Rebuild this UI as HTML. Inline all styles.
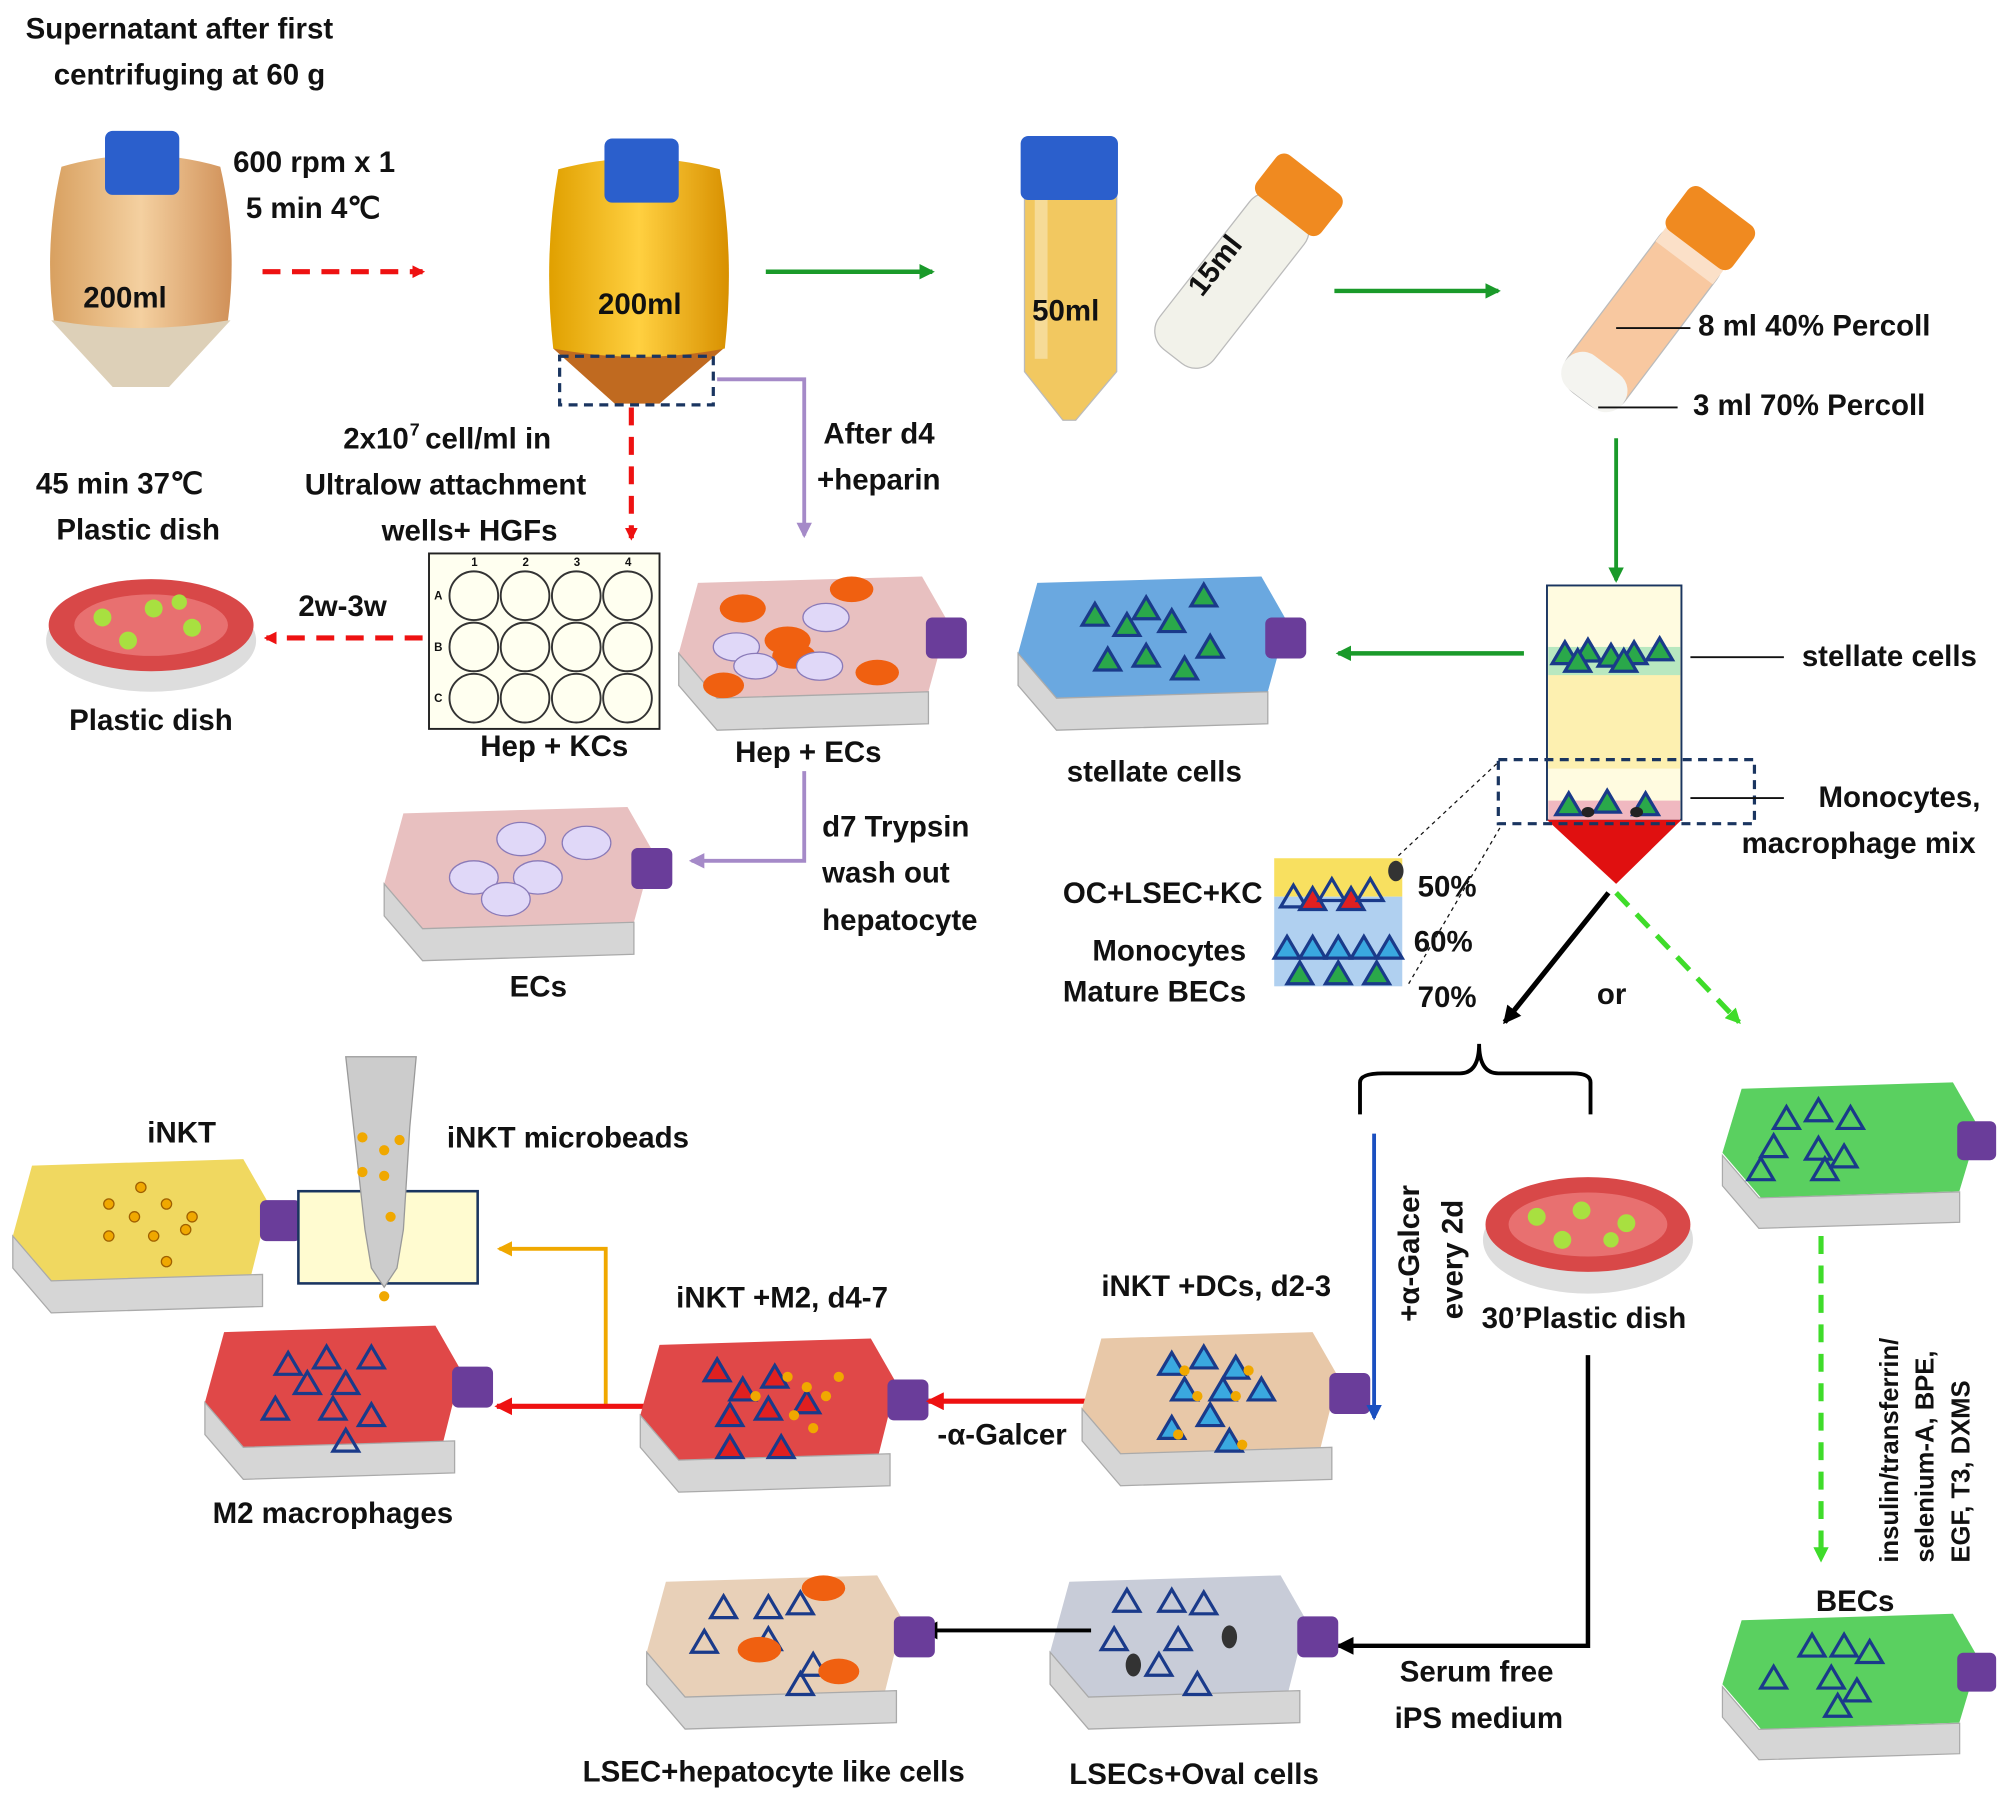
<!DOCTYPE html>
<html><head><meta charset="utf-8"><style>
html,body{margin:0;padding:0;background:#fff;}
svg{display:block}
text{font-family:"Liberation Sans",sans-serif;font-weight:bold;fill:#111;}
</style></head><body>
<svg width="2008" height="1801" viewBox="0 0 1568 1406" xmlns="http://www.w3.org/2000/svg">
<defs>
<marker id="ar" markerWidth="10" markerHeight="10" refX="8" refY="5" orient="auto" markerUnits="userSpaceOnUse"><path d="M0,0 L10,5 L0,10 z" fill="#e11"/></marker>
<marker id="ag" markerWidth="12" markerHeight="12" refX="10" refY="6" orient="auto" markerUnits="userSpaceOnUse"><path d="M0,0 L12,6 L0,12 z" fill="#1a9a2a"/></marker>
<marker id="alg" markerWidth="12" markerHeight="12" refX="10" refY="6" orient="auto" markerUnits="userSpaceOnUse"><path d="M0,0 L12,6 L0,12 z" fill="#3fdc2a"/></marker>
<marker id="ap" markerWidth="12" markerHeight="12" refX="10" refY="6" orient="auto" markerUnits="userSpaceOnUse"><path d="M0,0 L12,6 L0,12 z" fill="#a58ac8"/></marker>
<marker id="ak" markerWidth="14" markerHeight="14" refX="12" refY="7" orient="auto" markerUnits="userSpaceOnUse"><path d="M0,0 L14,7 L0,14 z" fill="#000"/></marker>
<marker id="ab" markerWidth="12" markerHeight="12" refX="10" refY="6" orient="auto" markerUnits="userSpaceOnUse"><path d="M0,0 L12,6 L0,12 z" fill="#1a4fc0"/></marker>
<marker id="ay" markerWidth="12" markerHeight="12" refX="10" refY="6" orient="auto" markerUnits="userSpaceOnUse"><path d="M0,0 L12,6 L0,12 z" fill="#f0a800"/></marker>
<marker id="arr" markerWidth="14" markerHeight="14" refX="12" refY="7" orient="auto" markerUnits="userSpaceOnUse"><path d="M0,0 L14,7 L0,14 z" fill="#e11"/></marker>
<linearGradient id="g1" x1="0" x2="1"><stop offset="0" stop-color="#d8a060"/><stop offset="0.5" stop-color="#f4d0a0"/><stop offset="1" stop-color="#d09058"/></linearGradient>
<linearGradient id="g2" x1="0" x2="1"><stop offset="0" stop-color="#e0a000"/><stop offset="0.5" stop-color="#ffd040"/><stop offset="1" stop-color="#d89000"/></linearGradient>
<g id="side"><polygon points="0,60 30,95 195,90 195,115 30,120 0,85" fill="#d6d6d6" stroke="#aaa"/><rect x="193" y="32" width="32" height="32" rx="5" fill="#6a3d9a"/></g>
<g id="tri"><polygon points="0,-9 10,8 -10,8" fill="#2aa84a" stroke="#1a3a8a" stroke-width="2.5"/></g>
<g id="trib"><polygon points="0,-9 10,8 -10,8" fill="none" stroke="#1a3a8a" stroke-width="2.5"/></g>
<g id="trir"><polygon points="0,-9 10,8 -10,8" fill="#e02020" stroke="#1a3a8a" stroke-width="2.5"/></g>
<g id="tric"><polygon points="0,-9 10,8 -10,8" fill="#3aa8e0" stroke="#1a3a8a" stroke-width="2.5"/></g>
</defs>

<text x="20" y="30" font-size="23">Supernatant  after first</text>
<text x="42" y="66" font-size="23">centrifuging  at 60 g</text>
<text x="182" y="134" font-size="23">600 rpm x 1</text>
<text x="192" y="170" font-size="23">5 min  4℃</text>

<!-- bottle 1 -->
<path d="M40,250 L180,250 L132,302 L88,302 Z" fill="#ddd0b8"/>
<path d="M48,130 Q110,112 172,130 Q186,190 178,250 Q110,262 42,250 Q34,190 48,130 Z" fill="url(#g1)"/>
<rect x="82" y="102" width="58" height="50" rx="6" fill="#2b5fcc"/>
<text x="65" y="240" font-size="23">200ml</text>
<line x1="205" y1="212" x2="330" y2="212" stroke="#e11" stroke-width="4" stroke-dasharray="14,9" marker-end="url(#ar)"/>

<!-- bottle 2 -->
<path d="M432,272 L565,272 L515,315 L480,315 Z" fill="#c06a20"/>
<path d="M436,132 Q500,115 562,132 Q574,200 566,272 Q500,285 432,272 Q424,200 436,132 Z" fill="url(#g2)"/>
<rect x="472" y="108" width="58" height="50" rx="6" fill="#2b5fcc"/>
<text x="467" y="245" font-size="23">200ml</text>
<rect x="437" y="278" width="120" height="38" fill="none" stroke="#1a3560" stroke-width="2.5" stroke-dasharray="7,5"/>
<line x1="598" y1="212" x2="728" y2="212" stroke="#1a9a2a" stroke-width="3.5" marker-end="url(#ag)"/>

<!-- 50ml -->
<path d="M800,140 L872,140 L872,290 L840,328 L830,328 L800,290 Z" fill="#f2c860" stroke="#bbb"/>
<rect x="808" y="150" width="10" height="130" fill="#fff" opacity="0.35"/>
<rect x="797" y="106" width="76" height="50" rx="6" fill="#2b5fcc"/>
<text x="806" y="250" font-size="23">50ml</text>
<g transform="translate(965,215) rotate(38)">
<rect x="-27" y="-70" width="54" height="150" rx="18" fill="#f2f2ea" stroke="#bbb"/>
<rect x="-32" y="-100" width="64" height="40" rx="8" fill="#f08a20"/>
<text x="-10" y="30" font-size="23" transform="rotate(-90 -10 30)">15ml</text>
</g>
<line x1="1042" y1="227" x2="1170" y2="227" stroke="#1a9a2a" stroke-width="3.5" marker-end="url(#ag)"/>

<!-- percoll tube -->
<g transform="translate(1285,245) rotate(37)">
<rect x="-28" y="-75" width="56" height="158" rx="20" fill="#f8c8a0" stroke="#bbb"/>
<rect x="-28" y="50" width="56" height="33" rx="16" fill="#f4f4f0"/>
<rect x="-28" y="-70" width="56" height="20" fill="#fbe0c8"/>
<rect x="-32" y="-105" width="64" height="42" rx="8" fill="#f08a20"/>
</g>
<line x1="1262" y1="256" x2="1320" y2="256" stroke="#111" stroke-width="1.5"/>
<line x1="1248" y1="318" x2="1310" y2="318" stroke="#111" stroke-width="1.5"/>
<text x="1326" y="262" font-size="23">8 ml  40% Percoll</text>
<text x="1322" y="324" font-size="23">3 ml  70% Percoll</text>
<line x1="1262" y1="342" x2="1262" y2="453" stroke="#1a9a2a" stroke-width="3" marker-end="url(#ag)"/>

<!-- column -->
<rect x="1208" y="457" width="105" height="183" fill="#fffbe0" stroke="#1a3560" stroke-width="1.5"/>
<rect x="1209" y="520" width="103" height="80" fill="#fdf0b0"/>
<rect x="1209" y="505" width="103" height="22" fill="#b8e8c0"/>
<rect x="1209" y="625" width="103" height="15" fill="#f0b8c0"/>
<path d="M1208,640 L1313,640 L1262,690 Z" fill="#e01010"/>
<g><use href="#tri" x="1222" y="510"/><use href="#tri" x="1240" y="508"/><use href="#tri" x="1258" y="512"/><use href="#tri" x="1276" y="510"/><use href="#tri" x="1296" y="507"/><use href="#tri" x="1232" y="516"/><use href="#tri" x="1268" y="516"/></g>
<g><use href="#tri" x="1225" y="628"/><use href="#tri" x="1255" y="626"/><use href="#tri" x="1285" y="628"/><ellipse cx="1240" cy="634" rx="5" ry="4" fill="#222"/><ellipse cx="1278" cy="634" rx="5" ry="4" fill="#222"/></g>
<rect x="1170" y="593" width="200" height="50" fill="none" stroke="#1a3560" stroke-width="2.5" stroke-dasharray="7,5"/>
<line x1="1320" y1="513" x2="1393" y2="513" stroke="#111" stroke-width="1.5"/>
<text x="1407" y="520" font-size="23">stellate cells</text>
<line x1="1320" y1="623" x2="1393" y2="623" stroke="#111" stroke-width="1.5"/>
<text x="1420" y="630" font-size="23">Monocytes,</text>
<text x="1360" y="666" font-size="23">macrophage mix</text>

<line x1="1190" y1="510" x2="1045" y2="510" stroke="#1a9a2a" stroke-width="3.5" marker-end="url(#ag)"/>

<g transform="translate(795,450)"><polygon points="15,5 190,0 210,35 195,90 30,95 0,60" fill="#6aa8e0"/><use href="#side"/>
<use href="#tri" x="60" y="30"/><use href="#tri" x="85" y="38"/><use href="#tri" x="100" y="25"/><use href="#tri" x="120" y="35"/><use href="#tri" x="145" y="15"/><use href="#tri" x="70" y="65"/><use href="#tri" x="100" y="62"/><use href="#tri" x="130" y="72"/><use href="#tri" x="150" y="55"/></g>
<text x="833" y="610" font-size="23">stellate cells</text>

<rect x="995" y="670" width="100" height="30" fill="#f8e060"/>
<rect x="995" y="700" width="100" height="70" fill="#b0d0f0"/>
<g><use href="#trib" x="1010" y="700"/><use href="#trir" x="1025" y="702"/><use href="#trib" x="1040" y="695"/><use href="#trir" x="1055" y="702"/><use href="#trib" x="1070" y="695"/><ellipse cx="1090" cy="680" rx="6" ry="8" fill="#333"/>
<use href="#tric" x="1005" y="740"/><use href="#tric" x="1025" y="740"/><use href="#tric" x="1045" y="740"/><use href="#tric" x="1065" y="740"/><use href="#tric" x="1085" y="740"/>
<use href="#tri" x="1015" y="760"/><use href="#tri" x="1045" y="760"/><use href="#tri" x="1075" y="760"/></g>
<line x1="1092" y1="668" x2="1170" y2="595" stroke="#111" stroke-width="1" stroke-dasharray="3,3"/>
<line x1="1100" y1="768" x2="1172" y2="645" stroke="#111" stroke-width="1" stroke-dasharray="3,3"/>
<text x="830" y="705" font-size="23">OC+LSEC+KC</text>
<text x="853" y="750" font-size="23">Monocytes</text>
<text x="830" y="782" font-size="23">Mature BECs</text>
<text x="1107" y="700" font-size="23">50%</text>
<text x="1104" y="743" font-size="23">60%</text>
<text x="1107" y="786" font-size="23">70%</text>

<line x1="1256" y1="697" x2="1175" y2="798" stroke="#000" stroke-width="4" marker-end="url(#ak)"/>
<line x1="1262" y1="697" x2="1358" y2="798" stroke="#3fdc2a" stroke-width="4" stroke-dasharray="14,9" marker-end="url(#alg)"/>
<text x="1247" y="784" font-size="23">or</text>

<path d="M1062,870 L1062,845 Q1062,838 1080,838 L1140,838 Q1155,838 1155,815 Q1155,838 1170,838 L1228,838 Q1242,838 1242,845 L1242,870" fill="none" stroke="#000" stroke-width="3"/>

<g transform="translate(1345,845)"><polygon points="15,5 180,0 200,35 185,85 30,90 0,55" fill="#5ad060"/><use href="#side" transform="scale(0.95)"/>
<use href="#trib" x="50" y="28"/><use href="#trib" x="75" y="22"/><use href="#trib" x="100" y="28"/><use href="#trib" x="40" y="50"/><use href="#trib" x="75" y="52"/><use href="#trib" x="95" y="58"/><use href="#trib" x="30" y="68"/><use href="#trib" x="80" y="68"/></g>
<line x1="1422" y1="965" x2="1422" y2="1218" stroke="#3fdc2a" stroke-width="4" stroke-dasharray="14,9" marker-end="url(#alg)"/>
<text transform="translate(1482,1220) rotate(-90)" font-size="20">insulin/transferrin/</text>
<text transform="translate(1510,1220) rotate(-90)" font-size="20">selenium-A, BPE,</text>
<text transform="translate(1538,1220) rotate(-90)" font-size="20">EGF, T3, DXMS</text>
<text x="1418" y="1258" font-size="23">BECs</text>
<g transform="translate(1345,1260)"><polygon points="15,5 180,0 200,35 185,85 30,90 0,55" fill="#5ad060"/><use href="#side" transform="scale(0.95)"/>
<use href="#trib" x="70" y="25"/><use href="#trib" x="95" y="25"/><use href="#trib" x="115" y="30"/><use href="#trib" x="40" y="50"/><use href="#trib" x="85" y="50"/><use href="#trib" x="105" y="60"/><use href="#trib" x="90" y="72"/></g>

<line x1="493" y1="318" x2="493" y2="420" stroke="#e11" stroke-width="4" stroke-dasharray="14,9" marker-end="url(#ar)"/>
<text x="268" y="350" font-size="23">2x10</text><text x="320" y="340" font-size="14">7</text><text x="332" y="350" font-size="23"> cell/ml  in</text>
<text x="238" y="386" font-size="23">Ultralow attachment</text>
<text x="298" y="422" font-size="23">wells+ HGFs</text>
<rect x="335" y="432" width="180" height="137" fill="#fffff0" stroke="#222" stroke-width="1.5"/>
<g fill="none" stroke="#333" stroke-width="1.5">
<circle cx="370" cy="465" r="19"/><circle cx="410" cy="465" r="19"/><circle cx="450" cy="465" r="19"/><circle cx="490" cy="465" r="19"/>
<circle cx="370" cy="505" r="19"/><circle cx="410" cy="505" r="19"/><circle cx="450" cy="505" r="19"/><circle cx="490" cy="505" r="19"/>
<circle cx="370" cy="545" r="19"/><circle cx="410" cy="545" r="19"/><circle cx="450" cy="545" r="19"/><circle cx="490" cy="545" r="19"/></g>
<g font-size="9"><text x="368" y="442">1</text><text x="408" y="442">2</text><text x="448" y="442">3</text><text x="488" y="442">4</text><text x="339" y="468">A</text><text x="339" y="508">B</text><text x="339" y="548">C</text></g>
<text x="375" y="590" font-size="23">Hep + KCs</text>
<line x1="330" y1="498" x2="208" y2="498" stroke="#e11" stroke-width="4" stroke-dasharray="14,9" marker-end="url(#ar)"/>
<text x="233" y="481" font-size="23">2w-3w</text>
<text x="28" y="385" font-size="23">45 min 37℃</text>
<text x="44" y="421" font-size="23">Plastic dish</text>
<ellipse cx="118" cy="500" rx="82" ry="40" fill="#ddd"/>
<ellipse cx="118" cy="488" rx="80" ry="36" fill="#d84848"/>
<ellipse cx="118" cy="488" rx="60" ry="24" fill="#e87070"/>
<g fill="#a8e040"><circle cx="80" cy="482" r="7"/><circle cx="120" cy="475" r="7"/><circle cx="150" cy="490" r="7"/><circle cx="100" cy="500" r="7"/><circle cx="140" cy="470" r="6"/></g>
<text x="54" y="570" font-size="23">Plastic dish</text>

<polyline points="560,296 628,296 628,418" fill="none" stroke="#a58ac8" stroke-width="3" marker-end="url(#ap)"/>
<text x="643" y="346" font-size="23">After d4</text>
<text x="638" y="382" font-size="23">+heparin</text>
<g transform="translate(530,450)"><polygon points="15,5 190,0 210,35 195,90 30,95 0,60" fill="#e8c0c0"/><use href="#side"/>
<g fill="#f06010"><ellipse cx="50" cy="25" rx="18" ry="11"/><ellipse cx="135" cy="10" rx="17" ry="10"/><ellipse cx="85" cy="50" rx="18" ry="11"/><ellipse cx="155" cy="75" rx="17" ry="10"/><ellipse cx="90" cy="62" rx="17" ry="10"/><ellipse cx="35" cy="85" rx="16" ry="10"/></g>
<g fill="#e0d8f8" stroke="#8a7ab8"><ellipse cx="115" cy="32" rx="18" ry="11"/><ellipse cx="45" cy="55" rx="18" ry="11"/><ellipse cx="110" cy="70" rx="18" ry="11"/><ellipse cx="60" cy="70" rx="17" ry="10"/></g></g>
<text x="574" y="595" font-size="23">Hep + ECs</text>
<polyline points="628,602 628,672 540,672" fill="none" stroke="#a58ac8" stroke-width="3" marker-end="url(#ap)"/>
<text x="642" y="653" font-size="23">d7 Trypsin</text>
<text x="642" y="689" font-size="23">wash out</text>
<text x="642" y="726" font-size="23">hepatocyte</text>
<g transform="translate(300,630)"><polygon points="15,5 190,0 210,35 195,90 30,95 0,60" fill="#e8c0c0"/><use href="#side"/>
<g fill="#e0d8f8" stroke="#8a7ab8"><ellipse cx="107" cy="25" rx="19" ry="13"/><ellipse cx="158" cy="28" rx="19" ry="13"/><ellipse cx="70" cy="55" rx="19" ry="13"/><ellipse cx="120" cy="55" rx="19" ry="13"/><ellipse cx="95" cy="72" rx="19" ry="13"/></g></g>
<text x="398" y="778" font-size="23">ECs</text>

<text x="115" y="892" font-size="23">iNKT</text>
<g transform="translate(10,905)"><polygon points="15,5 180,0 200,35 185,95 30,95 0,60" fill="#f0d860"/><use href="#side"/>
<g fill="#f0a800" stroke="#a06000"><circle cx="100" cy="22" r="4"/><circle cx="75" cy="35" r="4"/><circle cx="120" cy="35" r="4"/><circle cx="95" cy="45" r="4"/><circle cx="140" cy="45" r="4"/><circle cx="75" cy="60" r="4"/><circle cx="110" cy="60" r="4"/><circle cx="135" cy="55" r="4"/><circle cx="120" cy="80" r="4"/></g></g>
<rect x="233" y="930" width="140" height="72" fill="#fffbd0" stroke="#1a3560" stroke-width="2"/>
<path d="M270,825 L325,825 L320,880 L315,960 L310,990 L300,1005 L290,990 L285,960 Z" fill="#ccc" stroke="#999"/>
<g fill="#f0a800"><circle cx="283" cy="888" r="4"/><circle cx="300" cy="898" r="4"/><circle cx="283" cy="915" r="4"/><circle cx="300" cy="918" r="4"/><circle cx="312" cy="890" r="4"/><circle cx="305" cy="950" r="4"/><circle cx="300" cy="1012" r="4"/></g>
<text x="349" y="896" font-size="23">iNKT microbeads</text>
<polyline points="473,1097 473,975 390,975" fill="none" stroke="#f0a800" stroke-width="3" marker-end="url(#ay)"/>

<g transform="translate(160,1035)"><polygon points="15,5 180,0 200,35 185,95 30,95 0,60" fill="#e04848"/><use href="#side"/>
<use href="#trib" x="65" y="30"/><use href="#trib" x="95" y="25"/><use href="#trib" x="130" y="25"/><use href="#trib" x="80" y="45"/><use href="#trib" x="110" y="45"/><use href="#trib" x="55" y="65"/><use href="#trib" x="130" y="70"/><use href="#trib" x="110" y="90"/><use href="#trib" x="100" y="65"/></g>
<text x="166" y="1189" font-size="23">M2 macrophages</text>
<line x1="508" y1="1098" x2="388" y2="1098" stroke="#e11" stroke-width="4" marker-end="url(#arr)"/>

<text x="528" y="1021" font-size="23">iNKT +M2, d4-7</text>
<g transform="translate(500,1045)"><polygon points="15,5 180,0 200,35 185,95 30,95 0,60" fill="#e04848"/><use href="#side"/>
<use href="#trir" x="60" y="25"/><use href="#trir" x="80" y="40"/><use href="#trir" x="105" y="30"/><use href="#trir" x="70" y="60"/><use href="#trir" x="100" y="55"/><use href="#trir" x="130" y="50"/><use href="#trir" x="110" y="85"/><use href="#trir" x="70" y="85"/>
<g fill="#f0a800"><circle cx="115" cy="30" r="4"/><circle cx="130" cy="38" r="4"/><circle cx="145" cy="45" r="4"/><circle cx="120" cy="60" r="4"/><circle cx="90" cy="45" r="4"/><circle cx="135" cy="70" r="4"/><circle cx="155" cy="30" r="4"/></g></g>
<line x1="858" y1="1094" x2="725" y2="1094" stroke="#e11" stroke-width="4" marker-end="url(#arr)"/>
<text x="732" y="1128" font-size="23">-α-Galcer</text>

<text x="860" y="1012" font-size="23">iNKT +DCs, d2-3</text>
<g transform="translate(845,1040)"><polygon points="15,5 180,0 200,35 185,95 30,95 0,60" fill="#e8c8a8"/><use href="#side"/>
<use href="#tric" x="70" y="25"/><use href="#tric" x="95" y="20"/><use href="#tric" x="120" y="28"/><use href="#tric" x="80" y="45"/><use href="#tric" x="110" y="45"/><use href="#tric" x="140" y="45"/><use href="#tric" x="100" y="65"/><use href="#tric" x="70" y="75"/><use href="#tric" x="115" y="85"/>
<g fill="#f0a800"><circle cx="80" cy="30" r="4"/><circle cx="130" cy="30" r="4"/><circle cx="90" cy="50" r="4"/><circle cx="120" cy="50" r="4"/><circle cx="75" cy="80" r="4"/><circle cx="125" cy="88" r="4"/></g></g>
<line x1="1073" y1="885" x2="1073" y2="1107" stroke="#1a4fc0" stroke-width="3" marker-end="url(#ab)"/>
<text transform="translate(1108,1032) rotate(-90)" font-size="23">+α-Galcer</text>
<text transform="translate(1142,1030) rotate(-90)" font-size="23">every 2d</text>

<ellipse cx="1240" cy="968" rx="82" ry="42" fill="#ddd"/>
<ellipse cx="1240" cy="956" rx="80" ry="37" fill="#d84848"/>
<ellipse cx="1240" cy="956" rx="62" ry="25" fill="#e87070"/>
<g fill="#a8e040"><circle cx="1200" cy="950" r="7"/><circle cx="1235" cy="945" r="7"/><circle cx="1270" cy="955" r="7"/><circle cx="1220" cy="968" r="7"/><circle cx="1258" cy="968" r="6"/></g>
<text x="1157" y="1037" font-size="23">30’Plastic dish</text>
<polyline points="1240,1058 1240,1285 1045,1285" fill="none" stroke="#000" stroke-width="3.5" marker-end="url(#ak)"/>
<text x="1093" y="1313" font-size="23">Serum free</text>
<text x="1089" y="1349" font-size="23">iPS medium</text>

<g transform="translate(820,1230)"><polygon points="15,5 180,0 200,35 185,95 30,95 0,60" fill="#c8ccd8"/><use href="#side"/>
<use href="#trib" x="60" y="20"/><use href="#trib" x="95" y="20"/><use href="#trib" x="120" y="22"/><use href="#trib" x="50" y="50"/><use href="#trib" x="100" y="50"/><use href="#trib" x="85" y="70"/><use href="#trib" x="115" y="85"/>
<ellipse cx="140" cy="48" rx="6" ry="9" fill="#333"/><ellipse cx="65" cy="70" rx="6" ry="9" fill="#333"/></g>
<text x="835" y="1393" font-size="23">LSECs+Oval cells</text>
<line x1="852" y1="1273" x2="720" y2="1273" stroke="#000" stroke-width="3" marker-end="url(#ak)"/>

<g transform="translate(505,1230)"><polygon points="15,5 180,0 200,35 185,95 30,95 0,60" fill="#e8d0b8"/><use href="#side"/>
<use href="#trib" x="60" y="25"/><use href="#trib" x="95" y="25"/><use href="#trib" x="120" y="22"/><use href="#trib" x="45" y="52"/><use href="#trib" x="95" y="50"/><use href="#trib" x="130" y="70"/><use href="#trib" x="120" y="85"/>
<g fill="#f06010"><ellipse cx="138" cy="10" rx="17" ry="10"/><ellipse cx="88" cy="58" rx="17" ry="10"/><ellipse cx="150" cy="75" rx="16" ry="10"/></g></g>
<text x="455" y="1391" font-size="23">LSEC+hepatocyte like cells</text>
</svg>
</body></html>
